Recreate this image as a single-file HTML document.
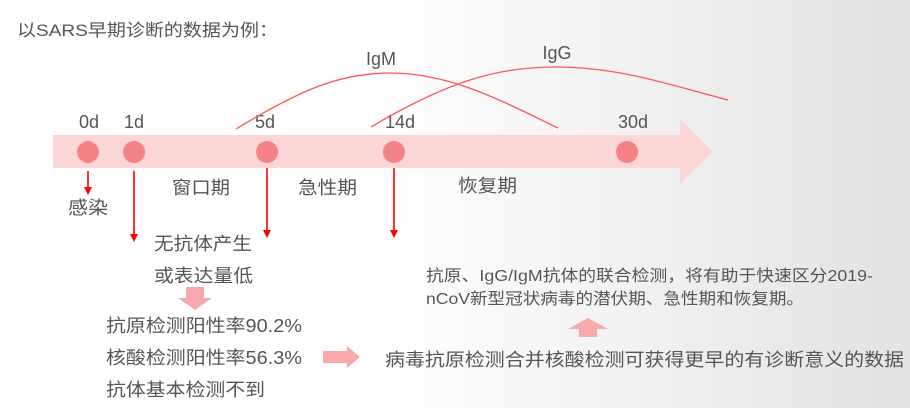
<!DOCTYPE html>
<html><head><meta charset="utf-8"><style>
html,body{margin:0;padding:0;width:910px;height:408px;overflow:hidden;}
body{background:linear-gradient(90deg,#fff 0px,#fff 380px,#e3e3e3 910px);}
svg{display:block;}
text{font-family:"Liberation Sans","Noto Sans CJK SC",sans-serif;fill:#555;}
</style></head><body>
<svg width="910" height="408" viewBox="0 0 910 408" xmlns="http://www.w3.org/2000/svg">
<text x="17" y="36" font-size="17" textLength="261" lengthAdjust="spacingAndGlyphs">以SARS早期诊断的数据为例：</text>
<polygon points="53,135 680,135 680,119 713,151.5 680,184 680,168 53,168" fill="#fcd5d5"/>
<g fill="#f48387">
<circle cx="88" cy="152" r="11"/><circle cx="134" cy="152" r="11"/><circle cx="267" cy="152" r="11"/><circle cx="394" cy="152" r="11"/><circle cx="627" cy="152" r="11"/>
</g>
<g font-size="18" text-anchor="middle">
<text x="89" y="128">0d</text><text x="134" y="128">1d</text><text x="265" y="128">5d</text><text x="400" y="128">14d</text><text x="633" y="128">30d</text>
</g>
<path d="M236,129 C300,90 340,73 390,73 C450,73 500,100 558,128" fill="none" stroke="#f55" stroke-width="1.3"/>
<path d="M371,127 C450,80 500,67 555,67 C620,67 670,85 728,100" fill="none" stroke="#f55" stroke-width="1.3"/>
<text x="381" y="65" font-size="18" text-anchor="middle">IgM</text>
<text x="557" y="59" font-size="18" text-anchor="middle">IgG</text>
<g stroke="#f00" stroke-width="1.6">
<line x1="88" y1="171" x2="88" y2="188"/>
<line x1="134" y1="171" x2="134" y2="235"/>
<line x1="267" y1="168" x2="267" y2="231"/>
<line x1="394" y1="168" x2="394" y2="231"/>
</g>
<g fill="#f00">
<polygon points="84,187 92,187 88,195"/>
<polygon points="130,234 138,234 134,242"/>
<polygon points="263,230 271,230 267,238"/>
<polygon points="390,230 398,230 394,238"/>
</g>
<g font-size="18" lengthAdjust="spacingAndGlyphs">
<text x="68" y="214" textLength="40" lengthAdjust="spacingAndGlyphs">感染</text>
<text x="172" y="194" textLength="58" lengthAdjust="spacingAndGlyphs">窗口期</text>
<text x="298" y="194" textLength="59" lengthAdjust="spacingAndGlyphs">急性期</text>
<text x="458" y="192" textLength="59" lengthAdjust="spacingAndGlyphs">恢复期</text>
<text x="154" y="250" textLength="98" lengthAdjust="spacingAndGlyphs">无抗体产生</text>
<text x="154" y="282" textLength="99" lengthAdjust="spacingAndGlyphs">或表达量低</text>
<text x="106" y="332" textLength="196" lengthAdjust="spacingAndGlyphs">抗原检测阳性率90.2%</text>
<text x="106" y="364" textLength="196" lengthAdjust="spacingAndGlyphs">核酸检测阳性率56.3%</text>
<text x="106" y="396" textLength="159" lengthAdjust="spacingAndGlyphs">抗体基本检测不到</text>
<text x="385" y="366" textLength="519" lengthAdjust="spacingAndGlyphs">病毒抗原检测合并核酸检测可获得更早的有诊断意义的数据</text>
</g>
<g font-size="16">
<text x="426" y="281" textLength="447" lengthAdjust="spacingAndGlyphs">抗原、IgG/IgM抗体的联合检测，将有助于快速区分2019-</text>
<text x="426" y="304" textLength="378" lengthAdjust="spacingAndGlyphs">nCoV新型冠状病毒的潜伏期、急性期和恢复期。</text>
</g>
<g fill="#f7a9ab">
<polygon points="186,287 204,287 204,298 212,298 195,310 178,298 186,298"/>
<polygon points="323,351 347,351 347,346 360,357 347,368 347,363 323,363"/>
<polygon points="568,329 588,318 608,329 597,329 597,337 579,337 579,329"/>
</g>
</svg>
</body></html>
